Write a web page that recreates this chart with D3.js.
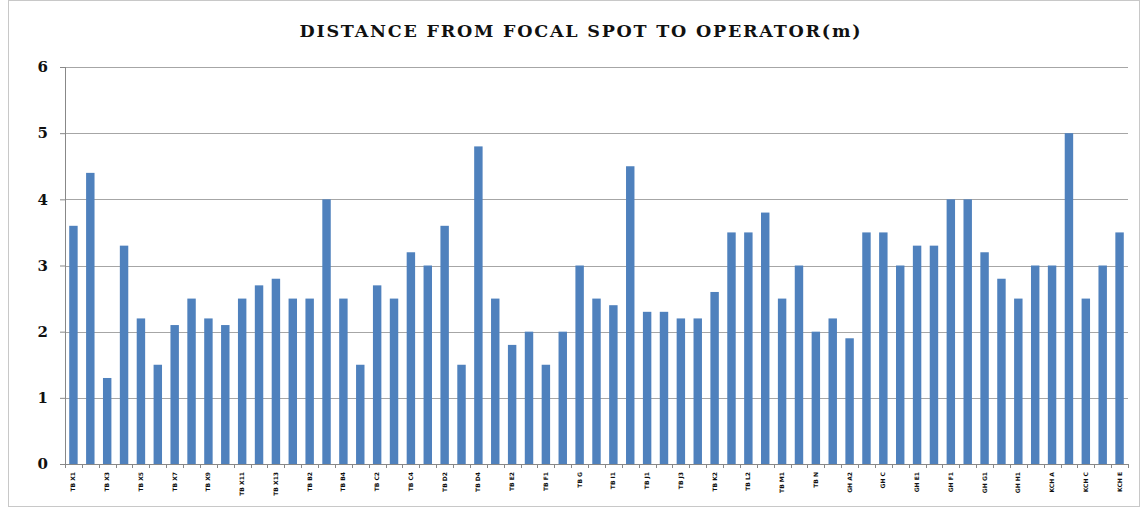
<!DOCTYPE html>
<html>
<head>
<meta charset="utf-8">
<script src="https://cdn.jsdelivr.net/npm/d3@7"></script>
<style>
  body { margin: 0; background: #fff; }
  .axis text { font-family: "DejaVu Serif", serif; font-weight: bold; }
</style>
</head>
<body>
<svg id="chart" width="1142" height="508"></svg>
<script>
// sites (every other one gets a visible label, like the original export)
var categories = [
  "TB X1","TB X2","TB X3","TB X4","TB X5","TB X6","TB X7","TB X8","TB X9","TB X10",
  "TB X11","TB X12","TB X13","TB B1","TB B2","TB B3","TB B4","TB C1","TB C2","TB C3",
  "TB C4","TB D1","TB D2","TB D3","TB D4","TB E1","TB E2","TB E3","TB F1","TB F2",
  "TB G","TB H","TB I1","TB I2","TB J1","TB J2","TB J3","TB K1","TB K2","TB K3",
  "TB L2","TB L3","TB M1","TB M2","TB N","GH A1","GH A2","GH B","GH C","GH D",
  "GH E1","GH E2","GH F1","GH F2","GH G1","GH G2","GH H1","GH H2","KCH A","KCH B",
  "KCH C","KCH D","KCH E"
];
var distance = [
  3.6,4.4,1.3,3.3,2.2,1.5,2.1,2.5,2.2,2.1,
  2.5,2.7,2.8,2.5,2.5,4.0,2.5,1.5,2.7,2.5,
  3.2,3.0,3.6,1.5,4.8,2.5,1.8,2.0,1.5,2.0,
  3.0,2.5,2.4,4.5,2.3,2.3,2.2,2.2,2.6,3.5,
  3.5,3.8,2.5,3.0,2.0,2.2,1.9,3.5,3.5,3.0,
  3.3,3.3,4.0,4.0,3.2,2.8,2.5,3.0,3.0,5.0,
  2.5,3.0,3.5
];
var yTicks = [0,1,2,3,4,5,6];
var title = "DISTANCE FROM FOCAL SPOT TO OPERATOR(m)";

var svg = d3.select("#chart");
var W = 1142, H = 508;
var margin = {top: 67, right: 14, bottom: 44, left: 65};
var width = W - margin.left - margin.right,
    height = H - margin.top - margin.bottom;

// outer chart border
svg.append("rect")
    .attr("x", 8.5).attr("y", 0.5)
    .attr("width", W - 11).attr("height", H - 2)
    .attr("fill", "none").attr("stroke", "#c8c8c8");

svg.append("text")
    .attr("x", 580).attr("y", 37)
    .attr("text-anchor", "middle")
    .attr("textLength", 561).attr("lengthAdjust", "spacing")
    .style("font-family", "'DejaVu Serif', serif")
    .style("font-weight", "bold")
    .style("font-size", "17.5px")
    .style("fill", "#111")
    .text(title);

var x = d3.scaleBand().domain(categories).range([0, width]).paddingInner(0.5).paddingOuter(0.25);
var y = d3.scaleLinear().domain([0, 6]).range([height, 0]);

var g = svg.append("g").attr("transform", "translate(" + margin.left + "," + margin.top + ")");

// gridlines
g.append("g").selectAll("line")
    .data(yTicks.filter(function(d){ return d > 0; }))
    .enter().append("line")
    .attr("x1", 0).attr("x2", width)
    .attr("y1", function(d){ return Math.round(y(d)) + 0.5; })
    .attr("y2", function(d){ return Math.round(y(d)) + 0.5; })
    .attr("stroke", "#a6a6a6");

// bars
g.selectAll(".bar")
    .data(distance)
    .enter().append("rect")
    .attr("class", "bar")
    .attr("x", function(d, i){ return x(categories[i]); })
    .attr("width", x.bandwidth())
    .attr("y", function(d){ return y(d); })
    .attr("height", function(d){ return height - y(d); })
    .attr("fill", "#4f81bd");

// y axis
var yAxis = d3.axisLeft(y).tickValues(yTicks).tickSize(5).tickPadding(12).tickFormat(d3.format("d"));
var ya = g.append("g").attr("class", "axis").call(yAxis);
ya.selectAll("text").style("font-size", "15px").attr("fill", "#111");
ya.selectAll("line,path").attr("stroke", "#888");
ya.select(".domain").attr("d", "M0.5,0V" + height);

// x axis: line, small ticks at category boundaries
var xa = g.append("g").attr("class", "axis").attr("transform", "translate(0," + height + ")");
xa.append("line").attr("x1", 0).attr("x2", width).attr("y1", 0.5).attr("y2", 0.5).attr("stroke", "#888");
xa.selectAll(".tk")
    .data(d3.range(categories.length + 1))
    .enter().append("line")
    .attr("x1", function(i){ return Math.round(i * width / categories.length) + 0.5; })
    .attr("x2", function(i){ return Math.round(i * width / categories.length) + 0.5; })
    .attr("y1", 0).attr("y2", 4)
    .attr("stroke", "#888");

xa.selectAll(".lbl")
    .data(categories.filter(function(d, i){ return i % 2 === 0; }))
    .enter().append("text")
    .attr("transform", function(d){
        return "translate(" + (x(d) + x.bandwidth() / 2 + 2) + ",8) rotate(-90)";
    })
    .attr("text-anchor", "end")
    .style("font-size", "6px")
    .style("font-family", "'DejaVu Sans', sans-serif")
    .style("font-weight", "bold")
    .attr("fill", "#111")
    .text(function(d){ return d; });
</script>
</body>
</html>
